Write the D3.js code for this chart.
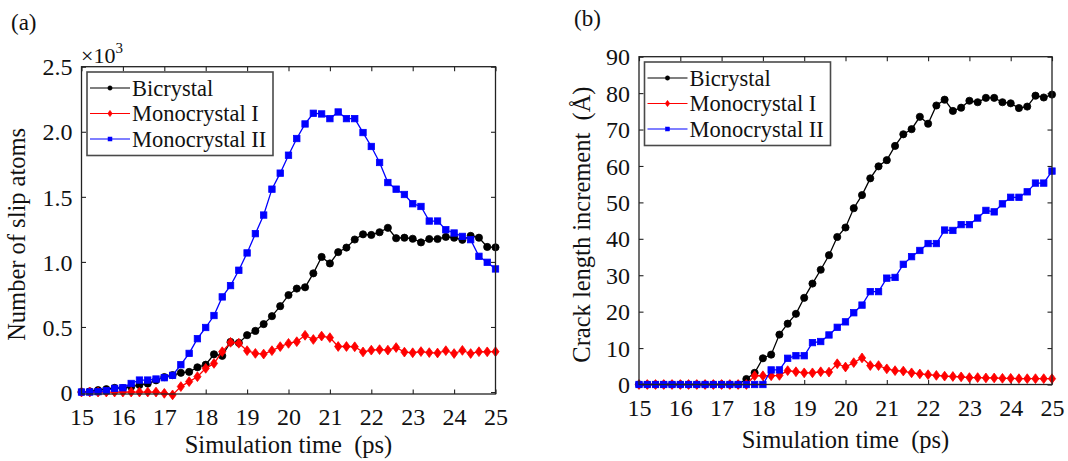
<!DOCTYPE html>
<html>
<head>
<meta charset="utf-8">
<script src="https://cdn.jsdelivr.net/npm/d3@7"></script>
<style>
  html, body { margin: 0; padding: 0; background: #fff; }
  svg { display: block; }
  svg text { font-family: "Liberation Serif", "Times New Roman", serif; fill: #111; }
</style>
</head>
<body>
<svg id="chart" width="1068" height="461"></svg>
<script>
// Sampling instants (ps)
const times = [15.0, 15.2, 15.4, 15.6, 15.8, 16.0, 16.2, 16.4, 16.6, 16.8,
  17.0, 17.2, 17.4, 17.6, 17.8, 18.0, 18.2, 18.4, 18.6, 18.8,
  19.0, 19.2, 19.4, 19.6, 19.8, 20.0, 20.2, 20.4, 20.6, 20.8,
  21.0, 21.2, 21.4, 21.6, 21.8, 22.0, 22.2, 22.4, 22.6, 22.8,
  23.0, 23.2, 23.4, 23.6, 23.8, 24.0, 24.2, 24.4, 24.6, 24.8, 25.0];

const seriesNames = ["Bicrystal", "Monocrystal I", "Monocrystal II"];

// (a) number of slip atoms
const bicrystalAtoms = [0, 5, 15, 22, 32, 30, 40, 55, 65, 90,
  115, 130, 148, 155, 190, 210, 290, 278, 385, 378,
  437, 470, 522, 583, 660, 745, 795, 805, 912, 1038,
  988, 1075, 1110, 1172, 1212, 1207, 1228, 1262, 1182, 1186,
  1178, 1150, 1176, 1176, 1192, 1186, 1170, 1200, 1186, 1115, 1112];
const mono1Atoms = [0, 0, 0, 0, 0, 0, 0, 0, 0, 0,
  -10, -22, 42, 80, 118, 182, 220, 310, 382, 375,
  318, 297, 292, 318, 349, 374, 387, 436, 404, 430,
  418, 350, 350, 348, 308, 322, 326, 322, 342, 307,
  302, 311, 303, 300, 318, 296, 320, 296, 310, 309, 310];
const mono2Atoms = [0, 0, 3, 10, 28, 33, 66, 92, 92, 100,
  110, 128, 210, 297, 410, 496, 588, 731, 818, 936,
  1069, 1217, 1360, 1559, 1682, 1820, 1948, 2060, 2142, 2137,
  2101, 2152, 2101, 2101, 1994, 1887, 1764, 1610, 1559, 1518,
  1447, 1426, 1314, 1314, 1247, 1222, 1196, 1171, 1043, 997, 946];

// (b) crack length increment (Å)
const bicrystalCrack = [0, 0, 0, 0, 0, 0, 0, 0, 0, 0,
  0, 0, 0, 1.5, 3.2, 7.2, 8.2, 13.7, 16.7, 19.4,
  23.8, 27.7, 31.5, 35.5, 40.5, 43.1, 48.4, 52.0, 56.6, 59.9,
  61.6, 65.5, 68.7, 70.1, 73.5, 71.6, 76.6, 78.2, 75.1, 76.0,
  77.9, 77.5, 78.7, 78.7, 77.5, 77.2, 75.9, 76.3, 79.3, 78.8, 79.6];
const mono1Crack = [0, 0, 0, 0, 0, 0, 0, 0, 0, 0,
  0, 0, 0, 0, 2.4, 2.4, 2.4, 2.5, 3.8, 3.5,
  3.2, 3.2, 3.5, 3.4, 5.7, 4.8, 6.0, 7.3, 5.2, 5.2,
  4.3, 3.8, 3.7, 3.2, 2.9, 2.7, 2.5, 2.3, 2.2, 2.1,
  1.9, 1.9, 1.8, 1.8, 1.7, 1.7, 1.6, 1.6, 1.6, 1.6, 1.6];
const mono2Crack = [0, 0, 0, 0, 0, 0, 0, 0, 0, 0,
  0, 0, 0, 0, 0, 0, 4.0, 4.0, 7.2, 7.9,
  7.9, 11.5, 11.8, 13.6, 15.7, 17.2, 19.7, 21.8, 25.5, 25.5,
  29.2, 29.4, 33.0, 35.1, 36.8, 38.7, 38.7, 42.4, 42.3, 43.9,
  43.9, 45.7, 47.8, 47.4, 49.6, 51.4, 51.4, 52.9, 55.3, 55.3, 58.6];

const xTicks = [15, 16, 17, 18, 19, 20, 21, 22, 23, 24, 25];
const atomTicks = [0, 500, 1000, 1500, 2000, 2500];
const crackTicks = [0, 10, 20, 30, 40, 50, 60, 70, 80, 90];

const colors = ["#000000", "#ff0000", "#0000ff"];
const shapes = ["circle", "diamond", "square"];
const FONT = '"Liberation Serif", "Times New Roman", serif';

const svg = d3.select("#chart");

function marker(g, shape, color, size, edge) {
  let m;
  if (shape === "circle") {
    m = g.append("circle").attr("r", size * 0.5);
  } else if (shape === "square") {
    const s = size;
    m = g.append("rect").attr("x", -s / 2).attr("y", -s / 2).attr("width", s).attr("height", s);
  } else {
    const w = size * 0.5, h = size * 0.68;
    m = g.append("path").attr("d", `M0,${-h}L${w},0L0,${h}L${-w},0Z`);
  }
  m.attr("fill", color).attr("stroke", color).attr("stroke-width", edge)
    .attr("stroke-linejoin", "miter");
}

function panel(opts) {
  const { left, right, top, bottom, yDomain, yTicks, yFormat, series,
          yLabel, yLabelX, xLabelY, tag, tagX, tagY, legendTop } = opts;
  const x = d3.scaleLinear().domain([15, 25]).range([left, right]);
  const y = d3.scaleLinear().domain(yDomain).range([bottom, top]);
  const g = svg.append("g");

  const tickLen = 4.5;
  // inward ticks on all four sides
  const axes = [
    [d3.axisBottom(x).tickValues(xTicks).tickFormat(d3.format("d")), `translate(0,${bottom})`, true],
    [d3.axisTop(x).tickValues(xTicks).tickFormat(""), `translate(0,${top})`, false],
    [d3.axisLeft(y).tickValues(yTicks).tickFormat(yFormat), `translate(${left},0)`, true],
    [d3.axisRight(y).tickValues(yTicks).tickFormat(""), `translate(${right},0)`, false]
  ];
  axes.forEach(([ax, tr, labelled], i) => {
    const a = g.append("g").attr("transform", tr)
      .call(ax.tickSizeInner(-tickLen).tickSizeOuter(0).tickPadding(0));
    a.attr("font-family", FONT).attr("font-size", 24);
    a.select(".domain").remove();
    a.selectAll(".tick line").attr("stroke", "#222").attr("stroke-width", 1.1);
    const t = a.selectAll(".tick text");
    if (!labelled) { t.remove(); return; }
    t.attr("font-size", 24).attr("fill", "#111").style("font-family", FONT);
    if (i === 0) t.attr("y", 31).attr("dy", 0);
    else t.attr("x", -9).attr("dy", "0.34em");
  });

  const line = d3.line().x((d, i) => x(times[i])).y(d => y(d));
  series.forEach((vals, k) => {
    g.append("path").datum(vals).attr("d", line)
      .attr("fill", "none").attr("stroke", colors[k]).attr("stroke-width", 1.3);
    const sz = shapes[k] === "circle" ? 7.2 : (shapes[k] === "square" ? 6.4 : 7.2);
    vals.forEach((v, i) => {
      const m = g.append("g").attr("transform", `translate(${x(times[i])},${y(v)})`);
      marker(m, shapes[k], colors[k], sz, 0.8);
    });
  });

  // plot box
  g.append("rect").attr("x", left).attr("y", top)
    .attr("width", right - left).attr("height", bottom - top)
    .attr("fill", "none").attr("stroke", "#222").attr("stroke-width", 1.3);

  // axis titles
  g.append("text").attr("x", (left + right) / 2).attr("y", xLabelY)
    .attr("text-anchor", "middle").attr("font-size", 24.5)
    .text("Simulation time\u00a0\u00a0(ps)");
  g.append("text").attr("transform", `translate(${yLabelX},${(top + bottom) / 2 + 4}) rotate(-90)`)
    .attr("text-anchor", "middle").attr("font-size", 24.5).text(yLabel);

  g.append("text").attr("x", tagX).attr("y", tagY).attr("font-size", 23).text(tag);

  // legend
  const lx = left + 5.5, ly = legendTop, lw = 186, lh = 83.5;
  const lg = g.append("g");
  lg.append("rect").attr("x", lx).attr("y", ly).attr("width", lw).attr("height", lh)
    .attr("fill", "#fff").attr("stroke", "#4a4a4a").attr("stroke-width", 1.6);
  const rows = [16, 41.5, 67];
  seriesNames.forEach((name, k) => {
    const cy = ly + rows[k];
    lg.append("line").attr("x1", lx + 3).attr("x2", lx + 43).attr("y1", cy).attr("y2", cy)
      .attr("stroke", colors[k]).attr("stroke-width", 1.2);
    const m = lg.append("g").attr("transform", `translate(${lx + 23},${cy})`);
    marker(m, shapes[k], colors[k], shapes[k] === "circle" ? 4.4 : (shapes[k] === "square" ? 4.0 : 4.6), 0.5);
    lg.append("text").attr("x", lx + 45).attr("y", cy + 7.7).attr("font-size", 22.5).text(name);
  });
  return { x, y };
}

// (a) slip atoms, axis shows values in units of 10^3
panel({
  left: 81.5, right: 495.5, top: 66.7, bottom: 394,
  yDomain: [-15, 2500], yTicks: atomTicks,
  yFormat: d => d === 0 ? "0" : d3.format(".1f")(d / 1000),
  series: [bicrystalAtoms, mono1Atoms, mono2Atoms],
  yLabel: "Number of slip atoms", yLabelX: 25, xLabelY: 453,
  tag: "(a)", tagX: 11, tagY: 30, legendTop: 72
});
// exponent label of the slip-atom axis
const expo = svg.append("text").attr("x", 81).attr("y", 62.5).attr("font-size", 22);
expo.append("tspan").text("\u00d710");
expo.append("tspan").attr("font-size", 15).attr("dy", -10).text("3");

// (b) crack length increment
panel({
  left: 639, right: 1052, top: 56.7, bottom: 384.5,
  yDomain: [0, 90], yTicks: crackTicks, yFormat: d3.format("d"),
  series: [bicrystalCrack, mono1Crack, mono2Crack],
  yLabel: "Crack length increment\u00a0\u00a0(\u00c5)", yLabelX: 590, xLabelY: 448,
  tag: "(b)", tagX: 574, tagY: 26, legendTop: 62
});
</script>
</body>
</html>
